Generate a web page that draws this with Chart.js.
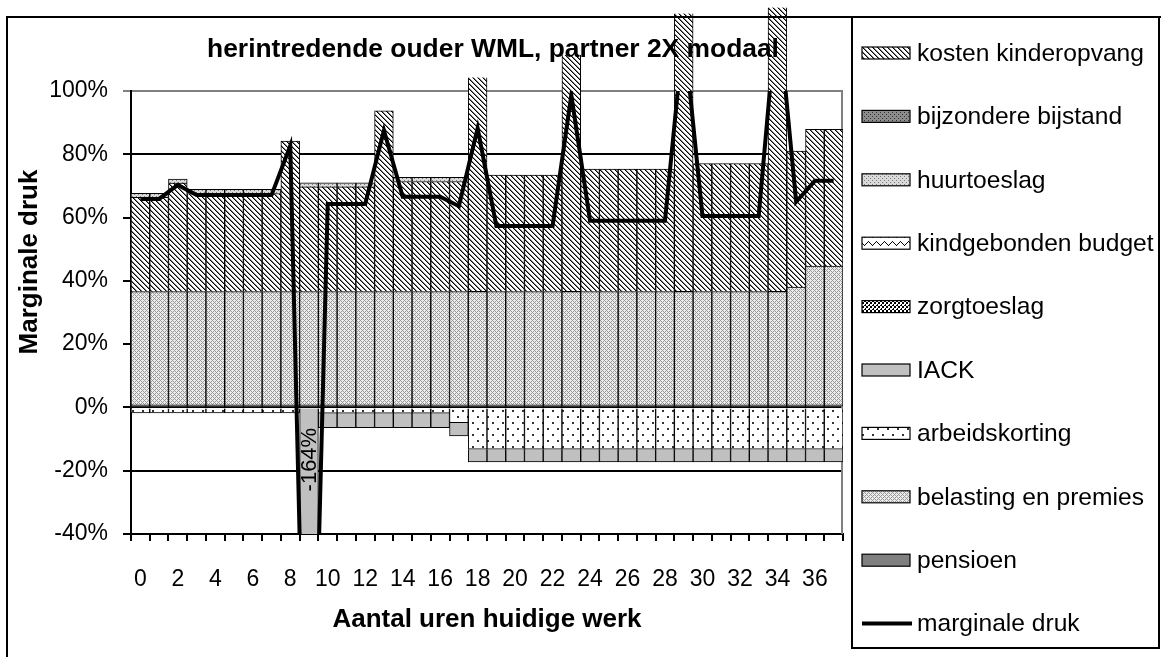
<!DOCTYPE html>
<html>
<head>
<meta charset="utf-8">
<script src="https://cdn.jsdelivr.net/npm/chart.js@4.4.1/dist/chart.umd.min.js"></script>
<style>
html,body{margin:0;padding:0;background:#fff;}
#wrap{width:1161px;height:657px;}
</style>
</head>
<body>
<div id="wrap"><canvas id="c" width="1161" height="657"></canvas></div>
<script>
// ---- data (percentages) ----
const hours = ['0','1','2','3','4','5','6','7','8','9','10','11','12','13','14','15','16','17','18','19','20','21','22','23','24','25','26','27','28','29','30','31','32','33','34','35','36','37'];
const yTicks = [-40, -20, 0, 20, 40, 60, 80, 100];
const pensioen = [0.8,0.8,0.8,0.8,0.8,0.8,0.8,0.8,0.8,0.8,0.8,0.8,0.8,0.8,0.8,0.8,0.8,0.8,0.8,0.8,0.8,0.8,0.8,0.8,0.8,0.8,0.8,0.8,0.8,0.8,0.8,0.8,0.8,0.8,0.8,0.8,0.8,0.8];
const belasting = [35.8,35.8,35.8,35.8,35.8,35.8,35.8,35.8,35.8,35.8,35.8,35.8,35.8,35.8,35.8,35.8,35.8,35.8,35.8,35.8,35.8,35.8,35.8,35.8,35.8,35.8,35.8,35.8,35.8,35.8,35.8,35.8,35.8,35.8,35.8,37.2,43.9,43.9];
const arbeidskorting = [-1.7,-1.7,-1.7,-1.7,-1.7,-1.7,-1.7,-1.7,-1.7,0,-1.8,-1.8,-1.8,-1.8,-1.8,-1.8,-1.8,-4.8,-13.2,-13.2,-13.2,-13.2,-13.2,-13.2,-13.2,-13.2,-13.2,-13.2,-13.2,-13.2,-13.2,-13.2,-13.2,-13.2,-13.2,-13.2,-13.2,-13.2];
const iack = [0,0,0,0,0,0,0,0,0,-233,-4.6,-4.6,-4.6,-4.6,-4.6,-4.6,-4.6,-4.2,-4.0,-4.0,-4.0,-4.0,-4.0,-4.0,-4.0,-4.0,-4.0,-4.0,-4.0,-4.0,-4.0,-4.0,-4.0,-4.0,-4.0,-4.0,-4.0,-4.0];
const zorgtoeslag = [0,0,0,0,0,0,0,0,0,0,0,0,0,0,0,0,0,0,0,0,0,0,0,0,0,0,0,0,0,0,0,0,0,0,0,0,0,0];
const kindgebonden = [0,0,0,0,0,0,0,0,0,0,0,0,0,0,0,0,0,0,0,0,0,0,0,0,0,0,0,0,0,0,0,0,0,0,0,0,0,0];
const bijzondere = [0,0,0,0,0,0,0,0,0,0,0,0,0,0,0,0,0,0,0,0,0,0,0,0,0,0,0,0,0,0,0,0,0,0,0,0,0,0];
const kinderopvang = [29.8,29.8,34.3,31.0,31.0,31.0,31.0,31.0,47.6,33.1,33.1,33.1,33.1,57.1,34.8,34.8,34.8,34.8,67.7,36.8,36.8,36.8,36.8,74.8,38.7,38.7,38.7,38.7,38.7,87.9,40.5,40.5,40.5,40.5,89.8,43.0,43.2,43.2];
const huurtoeslag = [1.3,1.3,1.3,1.3,1.3,1.3,1.3,1.3,0,1.3,1.3,1.3,1.3,0,1.3,1.3,1.3,1.3,0,0,0,0,0,0,0,0,0,0,0,0,0,0,0,0,0,0,0,0];
const druk = [65.9,65.9,70.3,67.1,67.1,67.1,67.1,67.1,82.7,-164,64.3,64.3,64.3,87.5,66.6,66.6,66.6,63.6,88.2,57.3,57.3,57.3,57.3,98.7,59.0,59.0,59.0,59.0,59.0,119,60.5,60.5,60.5,60.5,127,65.0,71.6,71.6];

const FONT = "'Liberation Sans', Arial, Helvetica, sans-serif";
Chart.defaults.font.family = FONT;
Chart.defaults.color = '#000';

// ---- fill patterns ----
function makePattern(w, h, fn) {
  const cv = document.createElement('canvas');
  cv.width = w; cv.height = h;
  const cx = cv.getContext('2d');
  for (let y = 0; y < h; y++) for (let x = 0; x < w; x++) {
    cx.fillStyle = fn(x, y);
    cx.fillRect(x, y, 1, 1);
  }
  return cx.createPattern(cv, 'repeat');
}
const mod = (a, n) => ((a % n) + n) % n;
const patKinderopvang = makePattern(5, 5, (x, y) => { const d = mod(x - y, 5); return d === 0 ? '#000' : (d === 1 ? '#808080' : '#fff'); });
const patBelasting = makePattern(4, 4, (x, y) => (mod(x + y, 4) === 0 || mod(x - y, 4) === 0) ? '#999' : '#ececec');
const patArbeid = makePattern(10, 12, (x, y) => ((x >= 2 && x <= 3 && y >= 2 && y <= 3) || (x >= 7 && x <= 8 && y >= 8 && y <= 9)) ? '#333' : '#fff');
const patHuur = makePattern(4, 4, (x, y) => ((x === 0 && y === 0) || (x === 2 && y === 2)) ? '#7a7a7a' : '#dadada');
const patBijz = makePattern(4, 4, (x, y) => ((x === 0 && y === 0) || (x === 2 && y === 2)) ? '#333' : '#8c8c8c');
const patKind = makePattern(8, 8, (x, y) => (y === Math.abs(4 - x) + 1) ? '#000' : '#fff');
const patZorg = makePattern(4, 4, (x, y) => (mod((x >> 1) + (y >> 1), 2) === 0 && !(x === 0 && y === 0)) ? '#000' : '#fff');
const IACK_COLOR = '#c0c0c0';
const PENS_COLOR = '#808080';

const legendItems = [
  {label: 'kosten kinderopvang', fill: patKinderopvang},
  {label: 'bijzondere bijstand', fill: patBijz},
  {label: 'huurtoeslag', fill: patHuur},
  {label: 'kindgebonden budget', fill: patKind},
  {label: 'zorgtoeslag', fill: patZorg},
  {label: 'IACK', fill: IACK_COLOR},
  {label: 'arbeidskorting', fill: patArbeid},
  {label: 'belasting en premies', fill: patBelasting},
  {label: 'pensioen', fill: PENS_COLOR},
  {label: 'marginale druk', line: true}
];

const deco = {
  id: 'deco',
  beforeDraw(chart) {
    const ctx = chart.ctx;
    ctx.save();
    ctx.fillStyle = '#fff';
    ctx.fillRect(0, 0, chart.width, chart.height);
    ctx.restore();
  },
  beforeDatasetsDraw(chart) {
    const {ctx, chartArea: a} = chart;
    ctx.save();
    ctx.strokeStyle = '#808080';
    ctx.lineWidth = 2;
    ctx.beginPath();
    ctx.moveTo(a.right - 1, a.top);
    ctx.lineTo(a.right - 1, a.bottom);
    ctx.stroke();
    ctx.restore();
  },
  afterDatasetsDraw(chart) {
    const ctx = chart.ctx;
    const xs = chart.scales.x, ys = chart.scales.y;
    ctx.save();
    ctx.fillStyle = '#000';
    ctx.font = 'bold 26.4px ' + FONT;
    ctx.textAlign = 'center';
    ctx.textBaseline = 'alphabetic';
    ctx.fillText('herintredende ouder WML, partner 2X modaal', 493, 57);
    ctx.translate(xs.getPixelForValue(9) + 1, ys.getPixelForValue(-16.5));
    ctx.rotate(-Math.PI / 2);
    ctx.font = '22px ' + FONT;
    ctx.textBaseline = 'middle';
    ctx.fillText(Math.round(druk[9]) + '%', 0, 0);
    ctx.restore();
  },
  afterDraw(chart) {
    const ctx = chart.ctx;
    ctx.save();
    ctx.strokeStyle = '#000';
    ctx.lineWidth = 2;
    ctx.beginPath();
    ctx.moveTo(7, 657);
    ctx.lineTo(7, 17);
    ctx.lineTo(1161, 17);
    ctx.stroke();
    ctx.strokeRect(852, 17, 307, 631);
    ctx.save();
    ctx.translate(30, 262);
    ctx.rotate(-Math.PI / 2);
    ctx.font = 'bold 26px ' + FONT;
    ctx.textAlign = 'center';
    ctx.textBaseline = 'middle';
    ctx.fillText('Marginale druk', 0, 0);
    ctx.restore();
    ctx.font = '24.6px ' + FONT;
    ctx.textAlign = 'left';
    ctx.textBaseline = 'middle';
    legendItems.forEach((it, i) => {
      const cy = 53 + i * 63.4;
      if (it.line) {
        ctx.strokeStyle = '#000';
        ctx.lineWidth = 4;
        ctx.beginPath();
        ctx.moveTo(862, cy);
        ctx.lineTo(912, cy);
        ctx.stroke();
      } else {
        ctx.fillStyle = it.fill;
        ctx.fillRect(862, cy - 6, 48, 12);
        ctx.strokeStyle = '#000';
        ctx.lineWidth = 1.2;
        ctx.strokeRect(862, cy - 6, 48, 12);
      }
      ctx.fillStyle = '#000';
      ctx.fillText(it.label, 917, cy + 1);
    });
    ctx.restore();
  }
};

const barDs = (label, data, fill, extra) => Object.assign({
  type: 'bar', label, data, backgroundColor: fill, borderColor: '#000', borderWidth: 1,
  stack: 'bars', clip: 0, barPercentage: 1, categoryPercentage: 1
}, extra || {});

const posTop = (i) => pensioen[i] + belasting[i] + kinderopvang[i] + huurtoeslag[i];

new Chart(document.getElementById('c'), {
  type: 'bar',
  data: {
    labels: hours,
    datasets: [
      {type: 'line', label: 'marginale druk', data: druk, borderColor: '#000', borderWidth: 4,
       pointRadius: 0, fill: false, tension: 0, order: -1, stack: 'druk', clip: 0, borderJoinStyle: 'miter'},
      barDs('pensioen', pensioen, PENS_COLOR),
      barDs('belasting en premies', belasting, patBelasting),
      barDs('arbeidskorting', arbeidskorting, patArbeid),
      barDs('IACK', iack, IACK_COLOR),
      barDs('zorgtoeslag', zorgtoeslag, patZorg),
      barDs('kindgebonden budget', kindgebonden, patKind),
      barDs('bijzondere bijstand', bijzondere, patBijz),
      barDs('kosten kinderopvang', kinderopvang, patKinderopvang, {
        clip: {left: 0, top: false, right: 0, bottom: 0},
        borderSkipped: (c) => (posTop(c.dataIndex) > 100 ? 'top' : 'start')
      }),
      barDs('huurtoeslag', huurtoeslag, patHuur)
    ]
  },
  options: {
    responsive: false,
    animation: false,
    devicePixelRatio: 1,
    layout: {padding: {left: 0, top: 91, right: 318, bottom: 0}},
    plugins: {legend: {display: false}, tooltip: {enabled: false}, title: {display: false}},
    scales: {
      x: {
        stacked: true,
        offset: true,
        afterFit: (s) => { s.height = 123; },
        grid: {offset: true, drawOnChartArea: false, drawTicks: true, tickLength: 7, color: '#000', lineWidth: 2},
        border: {display: true, color: '#000', width: 2},
        ticks: {autoSkip: false, maxRotation: 0, minRotation: 0, padding: 25, color: '#000',
                font: {size: 23}, callback: (v, i) => (i % 2 === 0 ? hours[i] : '')},
        title: {display: true, text: 'Aantal uren huidige werk', color: '#000',
                font: {size: 26, weight: 'bold'}, padding: {top: 0, bottom: 22}}
      },
      y: {
        stacked: true,
        min: -40, max: 100,
        afterFit: (s) => { s.width = 131; },
        afterBuildTicks: (s) => { s.ticks = yTicks.map(v => ({value: v})); },
        grid: {color: (c) => (c.tick && c.tick.value === 100 ? '#808080' : '#000'), lineWidth: 2, tickLength: 8, drawTicks: true},
        border: {display: true, color: '#000', width: 2},
        ticks: {padding: 15, color: '#000', font: {size: 23}, callback: (v) => v + '%'}
      }
    }
  },
  plugins: [deco]
});
</script>
</body>
</html>
